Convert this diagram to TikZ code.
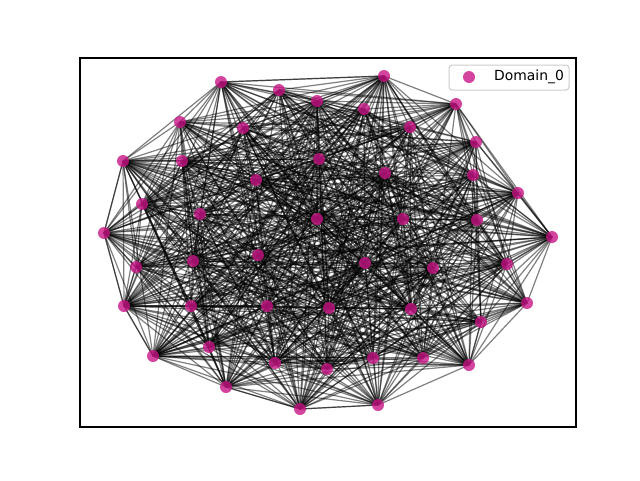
\documentclass[tikz,border=0pt]{standalone}
\usepackage{fontspec}
\setmainfont{DejaVu Sans}
\usetikzlibrary{backgrounds}
\definecolor{domvio}{HTML}{C71585}
\definecolor{legframe}{HTML}{CCCCCC}
\tikzset{
  vtx/.style={circle,fill=domvio,fill opacity=.8,inner sep=0pt,minimum size=12pt},
  link/.style={draw=black,opacity=.5,line width=1.2pt},
}

\begin{document}
\begin{tikzpicture}[x=1pt,y=-1pt]
  \useasboundingbox (0,0) rectangle (640,480);
  % vertices
  \foreach \n/\px/\py in {1/221/82,2/279/90,3/317/101,4/384/76,5/456/104,
      6/364/109,7/410/127,8/243/128,9/180/122,10/123/161,11/182/161,
      12/476/142,13/319/159,14/385/173,15/256/180,16/473/175,17/518/193,
      18/142/204,19/200/214,20/317/219,21/403/219,22/477/220,23/104/233,
      24/552/237,25/258/255,26/193/261,27/136/267,28/365/263,29/433/268,
      30/507/264,31/124/306,32/191/306,33/267/306,34/329/308,35/411/309,
      36/527/303,37/481/322,38/209/347,39/153/356,40/275/363,41/373/358,
      42/423/358,43/327/369,44/469/365,45/226/387,46/300/409,47/378/405}
    \node[vtx] (v\n) at (\px,\py) {};
  % edges
  \begin{scope}[on background layer]
    \pgfmathsetseed{7}
    \foreach \i in {1,...,46}{
      \pgfmathtruncatemacro\nxt{\i+1}
      \foreach \j in {\nxt,...,47}{
        \pgfmathtruncatemacro\keep{rnd<0.7}
        \ifnum\keep=1 \draw[link] (v\i.center) -- (v\j.center);\fi
      }
    }
    % outer ring
    \foreach \a/\b in {1/4,4/5,5/17,17/24,24/36,36/44,44/47,47/46,46/45,
        45/39,39/31,31/23,23/10,10/9,9/1}
      \draw[link] (v\a.center) -- (v\b.center);
  \end{scope}
  % axes and legend
  \draw[line width=1.1pt] (80,58) rectangle (576,427);
  \draw[legframe,line width=1pt,rounded corners=3pt,fill=white,fill opacity=.8]
    (449,65) rectangle (569,90);
  \node[vtx] (legdot) at (469,77) {};
  \node[anchor=west,inner sep=0pt,font=\fontsize{13.9}{16}\selectfont] (legtxt)
    at (494,77) {Domain\_0};
\end{tikzpicture}
\end{document}
